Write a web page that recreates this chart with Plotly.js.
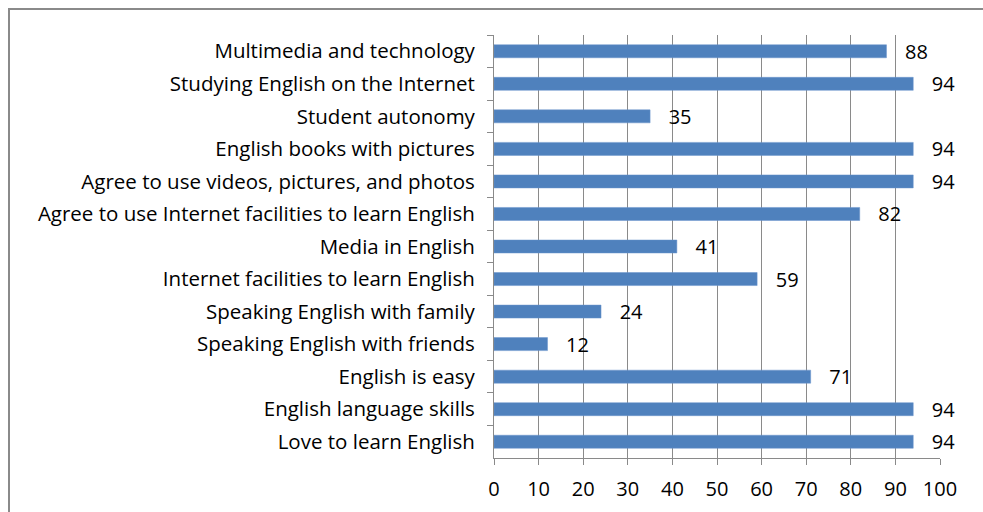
<!DOCTYPE html>
<html>
<head>
<meta charset="utf-8">
<script src="https://cdn.plot.ly/plotly-3.0.1.min.js"></script>
<style>
  html, body { margin: 0; padding: 0; background: #fff; }
  #wrap { position: relative; width: 983px; height: 512px; overflow: hidden; }
  #chart { position: absolute; left: 0; top: 0; width: 983px; height: 512px; }
  #frame { position: absolute; left: 8px; top: 8px; width: 990px; height: 520px;
           border-left: 2px solid #8a8a8a; border-top: 2px solid #8a8a8a; pointer-events: none; }
</style>
</head>
<body>
<div id="wrap">
  <div id="chart"></div>
  <div id="frame"></div>
</div>
<script>
const categories = [
  "Multimedia and technology",
  "Studying English on the Internet",
  "Student autonomy",
  "English books with pictures",
  "Agree to use videos, pictures, and photos",
  "Agree to use Internet facilities to learn English",
  "Media in English",
  "Internet facilities to learn English",
  "Speaking English with family",
  "Speaking English with friends",
  "English is easy",
  "English language skills",
  "Love to learn English"
];
const values = [88, 94, 35, 94, 94, 82, 41, 59, 24, 12, 71, 94, 94];
const xTicks = [0, 10, 20, 30, 40, 50, 60, 70, 80, 90, 100];

const FONT = "'Open Sans', Lato, sans-serif";

const trace = {
  type: "bar",
  orientation: "h",
  y: categories,
  x: values,
  marker: { color: "#4F81BD", line: { color: "#6A95CC", width: 0.5 } },
  width: 0.4,
  text: values.map(v => "\u00a0\u00a0\u00a0" + v),
  texttemplate: "%{text}",
  textposition: "outside",
  constraintext: "none",
  cliponaxis: false,
  textfont: { family: FONT, size: 20, color: "#000" },
  hoverinfo: "none"
};

const layout = {
  width: 983,
  height: 512,
  margin: { l: 494, r: 43, t: 35, b: 54, pad: 0 },
  paper_bgcolor: "#fff",
  plot_bgcolor: "#fff",
  showlegend: false,
  font: { family: FONT, size: 20, color: "#000" },
  xaxis: {
    range: [0, 100],
    tickvals: xTicks,
    ticktext: xTicks.map(String),
    showgrid: true,
    gridcolor: "#8a8a8a",
    gridwidth: 1,
    zeroline: false,
    showline: true,
    linecolor: "#8a8a8a",
    linewidth: 1,
    ticks: "outside",
    ticklen: 6,
    tickcolor: "#8a8a8a",
    ticklabelstandoff: 7,
    tickfont: { family: FONT, size: 20, color: "#000" },
    fixedrange: true
  },
  yaxis: {
    type: "category",
    autorange: "reversed",
    showgrid: false,
    zeroline: false,
    showline: true,
    linecolor: "#8a8a8a",
    linewidth: 1,
    ticks: "outside",
    tickson: "boundaries",
    ticklen: 6,
    tickcolor: "#8a8a8a",
    ticklabelstandoff: 14,
    tickfont: { family: FONT, size: 20.5, color: "#000" },
    fixedrange: true
  }
};

Plotly.newPlot("chart", [trace], layout, { staticPlot: true, displayModeBar: false });
</script>
</body>
</html>
